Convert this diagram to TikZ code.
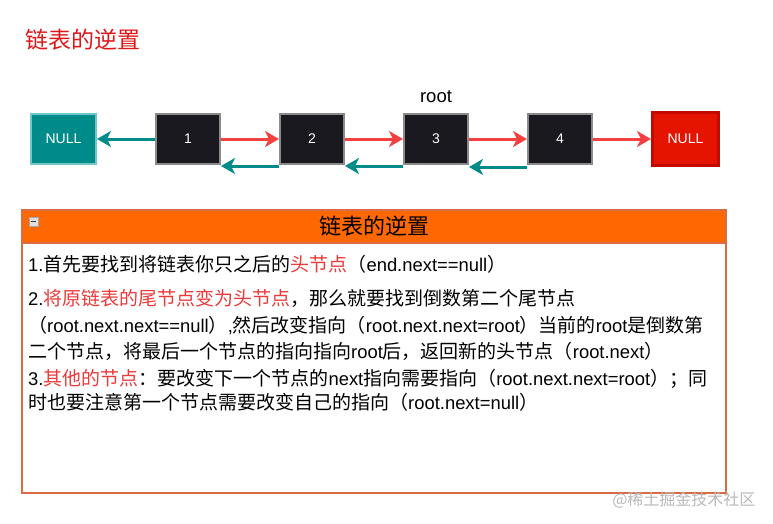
\documentclass[tikz,border=0pt]{standalone}
\usepackage{fontspec}
\setmainfont{Noto Sans CJK SC}
\newfontfamily\lat{Liberation Sans}
\usetikzlibrary{arrows.meta,positioning}
\definecolor{titlered}{RGB}{222,24,24}
\definecolor{tealc}{RGB}{0,139,139}
\definecolor{tealedge}{RGB}{110,200,200}
\definecolor{fwdred}{RGB}{244,64,64}
\definecolor{cellfill}{RGB}{26,25,31}
\definecolor{celledge}{RGB}{138,138,138}
\definecolor{nullred}{RGB}{228,20,0}
\definecolor{nulledge}{RGB}{196,10,0}
\definecolor{headorange}{RGB}{255,104,0}
\definecolor{paneledge}{RGB}{218,108,68}
\definecolor{txtred}{RGB}{234,58,58}
\newcommand\eng[1]{{\lat\fontsize{18.4pt}{22pt}\selectfont #1}}
\newcommand\redtxt[1]{\textcolor{txtred}{#1}}
\tikzset{
  cell/.style={draw=celledge, line width=2pt, fill=cellfill, text=white, minimum width=64pt, minimum height=50pt, font=\lat\fontsize{14pt}{16pt}\selectfont},
  nullcell/.style={cell, draw=tealedge, fill=tealc, minimum width=65pt},
  tailnull/.style={cell, draw=nulledge, line width=3pt, fill=nullred, minimum width=66pt, minimum height=52pt},
  fwd/.style={-{Stealth[length=14pt,width=16pt,inset=4pt]}, line width=3pt, fwdred},
  back/.style={fwd, tealc},
  lbl/.style={font=\lat\fontsize{18.5pt}{22pt}\selectfont},
  panelhead/.style={draw=paneledge, fill=headorange, line width=1.2pt, outer sep=0pt, minimum width=704pt, minimum height=33pt, font=\fontsize{22pt}{25pt}\selectfont},
  panelbody/.style={draw=paneledge, line width=1.5pt, outer sep=0pt, minimum width=704pt, minimum height=250pt},
  minusicon/.style={draw=gray!70, fill=gray!25, minimum size=9pt, inner sep=0pt},
  bodyline/.style={anchor=west, inner sep=0pt, text height=14pt, text depth=4pt, font=\fontsize{19pt}{22pt}\selectfont},
  wmark/.style={anchor=east, text=gray!55, font=\fontsize{16pt}{18pt}\selectfont}}

\begin{document}
\begin{tikzpicture}[x=1pt, y=-1pt, node distance=58pt]
  \fill[white] (0,0) rectangle (773,524);
  \useasboundingbox (0,0) rectangle (773,524);
  \node[anchor=west, text=titlered, font=\fontsize{23pt}{26pt}\selectfont] (title) at (22,40) {链表的逆置};
  % list before and after
  \node[nullcell] (nullL) at (63.5,139) {NULL};
  \node[cell, right=of nullL] (n1) {1};
  \node[cell, right=of n1] (n2) {2};
  \node[cell, right=of n2] (n3) {3};
  \node[cell, right=of n3] (n4) {4};
  \node[tailnull, right=of n4] (nullR) {NULL};
  \node[lbl, above=7pt of n3] (rootlbl) {root};
  \draw[back] (n1) -- (nullL);
  \draw[fwd] (n1) -- (n2); \draw[fwd] (n2) -- (n3);
  \draw[fwd] (n3) -- (n4); \draw[fwd] (n4) -- (nullR);
  \draw[back] ([yshift=-1pt]n2.south west) -- ([yshift=-1pt]n1.south east);
  \draw[back] ([yshift=-1pt]n3.south west) -- ([yshift=-1pt]n2.south east);
  \draw[back] ([yshift=-2pt]n4.south west) -- ([yshift=-2pt]n3.south east);
  % explanation panel
  \node[panelhead] (head) at (374,226.5) {链表的逆置};
  \node[panelbody, below=0pt of head] (body) {};
  \node[minusicon] (icon) at (33.5,221.5) {};
  \draw[line width=1.3pt, black!75] ([xshift=2pt]icon.west) -- ([xshift=-2pt]icon.east);
  \node[bodyline] (ln1) at (28,266.5) {\eng{1.}首先要找到将链表你只之后的\redtxt{头节点}（\eng{end.next==null}）};
  \node[bodyline, below right=16pt and 0pt of ln1.south west] (ln2) {\eng{2.}\redtxt{将原链表的尾节点变为头节点}，那么就要找到倒数第二个尾节点};
  \node[bodyline, below right=8pt and 0pt of ln2.south west] (ln3) {（\eng{root.next.next==null}）\eng{,}然后改变指向（\eng{root.next.next=root}）当前的\eng{root}是倒数第};
  \node[bodyline, below right=8pt and 0pt of ln3.south west] (ln4) {二个节点，将最后一个节点的指向指向\eng{root}后，返回新的头节点（\eng{root.next}）};
  \node[bodyline, below right=8pt and 0pt of ln4.south west] (ln5) {\eng{3.}\redtxt{其他的节点}：要改变下一个节点的\eng{next}指向需要指向（\eng{root.next.next=root}）；同};
  \node[bodyline, below right=6pt and 0pt of ln5.south west] (ln6) {时也要注意第一个节点需要改变自己的指向（\eng{root.next=null}）};
  \node[wmark] (mark) at (759,500) {@稀土掘金技术社区};
\end{tikzpicture}
\end{document}
